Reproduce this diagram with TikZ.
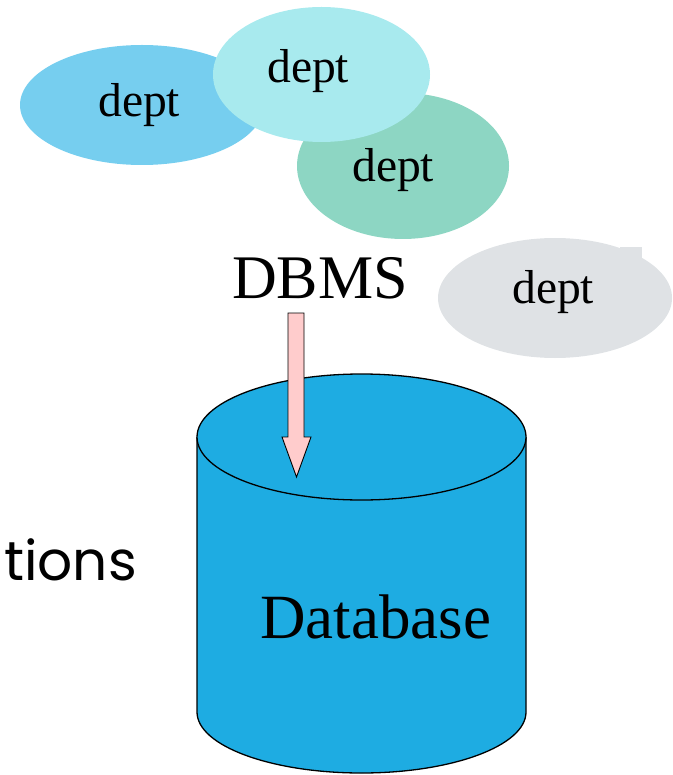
\documentclass[tikz,border=0pt]{standalone}
\usepackage{fontspec}
\usetikzlibrary{calc}
\setmainfont{Liberation Serif}
\newfontfamily\geofont{Poppins}
\definecolor{deptblue}{HTML}{76CEEF}
\definecolor{deptcyan}{HTML}{A8EAEE}
\definecolor{deptgreen}{HTML}{8DD6C3}
\definecolor{deptgrey}{HTML}{DFE2E5}
\definecolor{dbblue}{HTML}{1EACE2}
\definecolor{arrowpink}{HTML}{FFCCCC}
\begin{document}
\begin{tikzpicture}[x=1pt,y=-1pt,
  txt/.style={inner sep=0pt, anchor=base west},
  depttext/.style={txt, font=\fontsize{47.6}{50}\selectfont},
  cyl/.style={fill=dbblue, draw=black, line width=1.3pt},
  blockarrow/.style={fill=arrowpink, draw=black, line width=0.9pt, line join=miter}]
\useasboundingbox (0,0) rectangle (672,775);

% department ellipses (blue under green under cyan)
\fill[deptblue] (142,105) ellipse [x radius=122pt, y radius=60pt];
\fill[deptgreen] (403,166) ellipse [x radius=106pt, y radius=73pt];
\fill[deptcyan] (321.5,74.5) ellipse [x radius=108.5pt, y radius=67.5pt];
\fill[deptgrey] (555,298) ellipse [x radius=117pt, y radius=60pt];
\fill[deptgrey] (620,247) rectangle (642,259);

\node[depttext] (d1) at (98,117) {dept};
\node[depttext] (d2) at (267,83) {dept};
\node[depttext] (d3) at (352,182) {dept};
\node[depttext] (d4) at (512,303) {dept};

% database cylinder
\draw[cyl] (197,437) -- (197,712)
  arc[start angle=180, end angle=360, x radius=164.5pt, y radius=61pt]
  -- (526,437);
\draw[cyl] (361.5,437) ellipse [x radius=164.5pt, y radius=63pt];

\node[txt, font=\fontsize{63}{66}\selectfont] (db) at (260,638) {Database};
\node[txt, font=\fontsize{62}{65}\selectfont] (dbms) at (232,298) {DBMS};
\node[txt, font=\geofont\fontsize{55}{58}\selectfont] (apps) at (4,580) {tions};

% block arrow from the DBMS down into the database
\coordinate (atop) at (296,313);
\coordinate (atip) at (296.5,477);
\draw[blockarrow] ($(atop)+(-8,0)$) -- ($(atop)+(8,0)$) -- (304,437) -- (311,437)
  -- (atip) -- (282,437) -- (288,437) -- cycle;
\end{tikzpicture}
\end{document}
